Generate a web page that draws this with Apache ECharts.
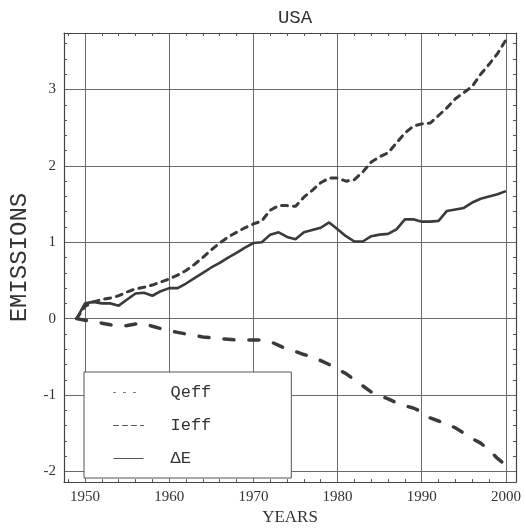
<!DOCTYPE html>
<html>
<head>
<meta charset="utf-8">
<script src="https://cdn.jsdelivr.net/npm/echarts@6/dist/echarts.min.js"></script>
<style>
  html, body { margin: 0; padding: 0; background: #fff; }
  #chart { width: 526px; height: 531px; }
</style>
</head>
<body>
<div id="chart"></div>
<script>
// USA emissions decomposition, 1949-2000

var years = [];
for (var y = 1949; y <= 2000; y++) years.push(y);

var qeff = [0, -0.02, -0.04, -0.06, -0.08, -0.1, -0.09, -0.07, -0.06, -0.1,
    -0.13, -0.16, -0.18, -0.2, -0.22, -0.24, -0.25, -0.26, -0.27, -0.28,
    -0.28, -0.28, -0.28, -0.3, -0.35, -0.4, -0.43, -0.47, -0.5, -0.55,
    -0.6, -0.66, -0.72, -0.8, -0.88, -0.96, -1.01, -1.05, -1.1, -1.14,
    -1.17, -1.22, -1.3, -1.34, -1.38, -1.43, -1.5, -1.57, -1.63, -1.72,
    -1.83, -1.92];

var ieff = [0, 0.16, 0.22, 0.25, 0.27, 0.3, 0.35, 0.39, 0.41, 0.44,
    0.48, 0.52, 0.57, 0.63, 0.71, 0.8, 0.9, 0.99, 1.07, 1.13,
    1.19, 1.24, 1.28, 1.42, 1.48, 1.48, 1.47, 1.59, 1.68, 1.78,
    1.84, 1.84, 1.8, 1.82, 1.92, 2.05, 2.12, 2.17, 2.3, 2.43,
    2.52, 2.55, 2.56, 2.66, 2.76, 2.88, 2.96, 3.04, 3.2, 3.33,
    3.47, 3.65];

var deltaE = [0, 0.2, 0.22, 0.2, 0.2, 0.17, 0.25, 0.33, 0.34, 0.3,
    0.36, 0.4, 0.4, 0.46, 0.53, 0.6, 0.67, 0.73, 0.8, 0.86,
    0.93, 0.99, 1.0, 1.1, 1.13, 1.07, 1.04, 1.13, 1.16, 1.19,
    1.26, 1.17, 1.08, 1.01, 1.01, 1.08, 1.1, 1.11, 1.17, 1.3,
    1.3, 1.27, 1.27, 1.28, 1.41, 1.43, 1.45, 1.52, 1.57, 1.6,
    1.63, 1.67];

var seriesNames = ['Qeff', 'Ieff', '\u0394E'];

function pairs(arr) {
    return years.map(function (yr, i) { return [yr, arr[i]]; });
}

var lineColor = '#3a3a3a';
var gridColor = '#6a6a6a';
var noSymbol = {color: 'rgba(0,0,0,0)', opacity: 0, borderWidth: 0};

var chart = echarts.init(document.getElementById('chart'), null, {renderer: 'canvas'});

var xCommon = {
    type: 'value',
    min: 1947.5,
    max: 2001.2,
    splitNumber: 5,
    axisLine: {onZero: false, lineStyle: {color: '#444', width: 1.2}},
    axisTick: {show: false, inside: true},
    minorTick: {show: true, splitNumber: 5, length: 3, lineStyle: {color: '#555'}}
};
var yCommon = {
    type: 'value',
    min: -2.14,
    max: 3.74,
    splitNumber: 5,
    axisLine: {onZero: false, lineStyle: {color: '#444', width: 1.2}},
    axisTick: {show: false, inside: true},
    minorTick: {show: true, splitNumber: 5, length: 3, lineStyle: {color: '#555'}}
};

var option = {
    animation: false,
    backgroundColor: '#fff',
    title: {
        text: 'USA',
        left: 290,
        top: 3,
        textAlign: 'center',
        textStyle: {fontFamily: 'Liberation Mono', fontWeight: 'normal', fontSize: 19, color: '#333'}
    },
    grid: {left: 60, right: 10, top: 33, bottom: 37},
    legend: {
        orient: 'vertical',
        left: 84,
        top: 372,
        padding: [12, 80, 11, 29],
        itemWidth: 30,
        itemHeight: 14,
        itemGap: 16,
        backgroundColor: '#fff',
        borderColor: '#555',
        borderWidth: 1,
        borderRadius: 0,
        itemStyle: noSymbol,
        textStyle: {fontFamily: 'Liberation Mono', fontSize: 17, color: '#333', padding: [0, 0, 0, 22]},
        data: [
            {name: 'Qeff', itemStyle: noSymbol, lineStyle: {type: [2, 8], width: 1, color: '#777'}},
            {name: 'Ieff', itemStyle: noSymbol, lineStyle: {type: [5, 4], width: 1, color: '#555'}},
            {name: '\u0394E', itemStyle: noSymbol, lineStyle: {type: 'solid', width: 1, color: '#555'}}
        ]
    },
    xAxis: [
        Object.assign({}, xCommon, {
            position: 'bottom',
            name: 'YEARS',
            nameLocation: 'middle',
            nameGap: 20,
            nameTextStyle: {fontFamily: 'Liberation Serif', fontSize: 17, color: '#333'},
            splitLine: {show: true, lineStyle: {color: gridColor, width: 1}},
            axisLabel: {
                margin: 7,
                fontFamily: 'Liberation Serif',
                fontSize: 15,
                color: '#333',
                formatter: function (v) { return Math.abs(v % 10) < 1e-6 ? String(Math.round(v)) : ''; }
            }
        }),
        Object.assign({}, xCommon, {
            position: 'top',
            splitLine: {show: false},
            axisLabel: {show: false}
        })
    ],
    yAxis: [
        Object.assign({}, yCommon, {
            position: 'left',
            name: 'EMISSIONS',
            nameLocation: 'middle',
            nameGap: 32,
            nameTextStyle: {fontFamily: 'Liberation Mono', fontSize: 24, color: '#333'},
            splitLine: {show: true, lineStyle: {color: gridColor, width: 1}},
            axisLabel: {
                margin: 8,
                fontFamily: 'Liberation Serif',
                fontSize: 15,
                color: '#333',
                formatter: function (v) { return Math.abs(v - Math.round(v)) < 1e-6 ? String(Math.round(v)) : ''; }
            }
        }),
        Object.assign({}, yCommon, {
            position: 'right',
            splitLine: {show: false},
            axisLabel: {show: false}
        })
    ],
    series: [
        {
            name: seriesNames[0],
            type: 'line',
            symbol: 'none',
            data: pairs(qeff),
            lineStyle: {color: lineColor, width: 3.5, type: [10, 15], cap: 'round'},
            itemStyle: {color: lineColor}
        },
        {
            name: seriesNames[1],
            type: 'line',
            symbol: 'none',
            data: pairs(ieff),
            lineStyle: {color: lineColor, width: 3, type: [6, 6], cap: 'round'},
            itemStyle: {color: lineColor}
        },
        {
            name: seriesNames[2],
            type: 'line',
            symbol: 'none',
            data: pairs(deltaE),
            lineStyle: {color: lineColor, width: 2.6},
            itemStyle: {color: lineColor}
        }
    ]
};

chart.setOption(option);
</script>
</body>
</html>
